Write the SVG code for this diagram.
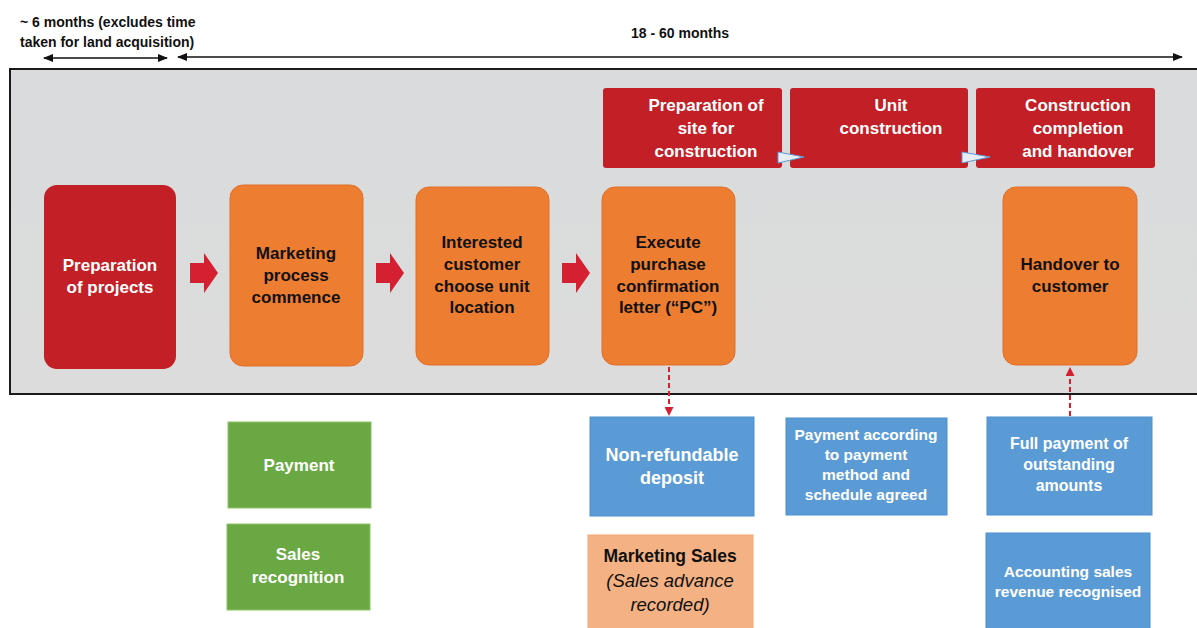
<svg xmlns="http://www.w3.org/2000/svg" width="1197" height="628" viewBox="0 0 1197 628">
<defs>
<style>
text{font-family:"Liberation Sans",Arial,sans-serif;font-weight:bold;text-anchor:middle}
.w{fill:#ffffff;font-size:17px}
.k{fill:#111111;font-size:17px}
.s{fill:#ffffff;font-size:15.5px}
.hdr{fill:#111111;font-size:14px}
.it{font-weight:normal;font-style:italic;font-size:18.5px}
.red{fill:#c21f26}
.org{fill:#ed7d31;stroke:#e07028;stroke-width:1}
.grn{fill:#6aa843;stroke:#8cc46a;stroke-width:1}
.blu{fill:#5b9bd5;stroke:#4a8fd0;stroke-width:1}
.dash{stroke:#d42030;stroke-width:2;stroke-dasharray:5,3;fill:none}
.tl{stroke:#111;stroke-width:1.6;fill:none}
</style>
<marker id="ah" markerWidth="10" markerHeight="8" refX="9" refY="4" orient="auto-start-reverse" markerUnits="userSpaceOnUse">
<path d="M0,0 L10,4 L0,8 Z" fill="#111"/>
</marker>
<marker id="rh" markerWidth="9" markerHeight="9" refX="8" refY="4.5" orient="auto" markerUnits="userSpaceOnUse">
<path d="M0,0 L9,4.5 L0,9 Z" fill="#d42030"/>
</marker>
<linearGradient id="pg" x1="0" y1="0" x2="0" y2="1">
<stop offset="0" stop-color="#d9dbdc"/>
<stop offset="1" stop-color="#dcdcdc"/>
</linearGradient>
</defs>
<rect width="1197" height="628" fill="#ffffff"/>

<g id="timeline">
<text class="hdr" x="20" y="27" style="text-anchor:start">~ 6 months (excludes time</text>
<text class="hdr" x="20" y="47" style="text-anchor:start">taken for land acquisition)</text>
<text class="hdr" x="680" y="38">18 - 60 months</text>
<line class="tl" x1="44" y1="58" x2="167" y2="58" marker-start="url(#ah)" marker-end="url(#ah)"/>
<line class="tl" x1="178" y1="57" x2="1182" y2="57" marker-start="url(#ah)" marker-end="url(#ah)"/>
</g>

<g id="panel">
<rect x="10" y="69" width="1200" height="325" fill="url(#pg)" stroke="#1a1a1a" stroke-width="2"/>
</g>

<g id="site-prep">
<rect class="red" x="603" y="88" width="179" height="80" rx="3"/>
<text class="w" x="706" y="111">Preparation of</text>
<text class="w" x="706" y="134">site for</text>
<text class="w" x="706" y="157">construction</text>
</g>
<g id="unit-construction">
<rect class="red" x="790" y="88" width="178" height="80" rx="3"/>
<text class="w" x="891" y="111">Unit</text>
<text class="w" x="891" y="134">construction</text>
</g>
<g id="completion">
<rect class="red" x="976" y="88" width="179" height="80" rx="3"/>
<text class="w" x="1078" y="111">Construction</text>
<text class="w" x="1078" y="134">completion</text>
<text class="w" x="1078" y="157">and handover</text>
</g>

<g id="prep-projects">
<rect class="red" x="44" y="185" width="132" height="184" rx="13"/>
<text class="w" x="110" y="271">Preparation</text>
<text class="w" x="110" y="293">of projects</text>
</g>
<g id="marketing">
<rect class="org" x="230" y="185" width="133" height="181" rx="13"/>
<text class="k" x="296" y="259">Marketing</text>
<text class="k" x="296" y="281">process</text>
<text class="k" x="296" y="303">commence</text>
</g>
<g id="interested">
<rect class="org" x="416" y="187" width="133" height="178" rx="13"/>
<text class="k" x="482" y="248">Interested</text>
<text class="k" x="482" y="270">customer</text>
<text class="k" x="482" y="292">choose unit</text>
<text class="k" x="482" y="313">location</text>
</g>
<g id="execute-pc">
<rect class="org" x="602" y="187" width="133" height="178" rx="13"/>
<text class="k" x="668" y="248">Execute</text>
<text class="k" x="668" y="270">purchase</text>
<text class="k" x="668" y="292">confirmation</text>
<text class="k" x="668" y="313">letter (“PC”)</text>
</g>
<g id="handover">
<rect class="org" x="1003" y="187" width="134" height="178" rx="13"/>
<text class="k" x="1070" y="270">Handover to</text>
<text class="k" x="1070" y="292">customer</text>
</g>

<g id="payment">
<rect class="grn" x="228" y="422" width="143" height="86"/>
<text class="w" x="299" y="471">Payment</text>
</g>
<g id="sales-recognition">
<rect class="grn" x="227" y="524" width="143" height="86"/>
<text class="w" x="298" y="560">Sales</text>
<text class="w" x="298" y="583">recognition</text>
</g>
<g id="deposit">
<rect class="blu" x="590" y="417" width="164" height="99"/>
<text class="w" x="672" y="461" style="font-size:18px">Non-refundable</text>
<text class="w" x="672" y="484" style="font-size:18px">deposit</text>
</g>
<g id="marketing-sales">
<rect x="588" y="535" width="165" height="100" fill="#f4b183" stroke="#f0a878" stroke-width="1"/>
<text class="k" x="670" y="562" style="font-size:17.5px">Marketing Sales</text>
<text class="k it" x="670" y="587">(Sales advance</text>
<text class="k it" x="670" y="611">recorded)</text>
</g>
<g id="payment-schedule">
<rect class="blu" x="786" y="418" width="161" height="97"/>
<text class="s" x="866" y="440">Payment according</text>
<text class="s" x="866" y="460">to payment</text>
<text class="s" x="866" y="480">method and</text>
<text class="s" x="866" y="500">schedule agreed</text>
</g>
<g id="full-payment">
<rect class="blu" x="987" y="417" width="165" height="98"/>
<text class="s" x="1069" y="449" style="font-size:16px">Full payment of</text>
<text class="s" x="1069" y="470" style="font-size:16px">outstanding</text>
<text class="s" x="1069" y="491" style="font-size:16px">amounts</text>
</g>
<g id="accounting">
<rect class="blu" x="986" y="533" width="164" height="100"/>
<text class="s" x="1068" y="577">Accounting sales</text>
<text class="s" x="1068" y="597">revenue recognised</text>
</g>

<g id="connectors">
<path d="M190,263 H204 V253 L218,273 L204,293 V283 H190 Z" fill="#d42030"/>
<path d="M376,263 H390 V253 L404,273 L390,293 V283 H376 Z" fill="#d42030"/>
<path d="M562,263 H576 V253 L590,273 L576,293 V283 H562 Z" fill="#d42030"/>
<path d="M778,152 L804,157 L778,163 Z" fill="#e8eef6" stroke="#5b9bd5" stroke-width="1"/>
<path d="M962,152 L990,157 L962,163 Z" fill="#e8eef6" stroke="#5b9bd5" stroke-width="1"/>
<line class="dash" x1="669" y1="367" x2="669" y2="415" marker-end="url(#rh)"/>
<line class="dash" x1="1070" y1="416" x2="1070" y2="368" marker-end="url(#rh)"/>
</g>
</svg>
